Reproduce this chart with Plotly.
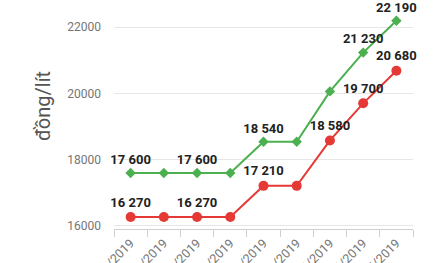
import plotly.graph_objects as go

dates = ["01/01/2019", "16/01/2019", "31/01/2019", "15/02/2019", "02/03/2019",
         "18/03/2019", "02/04/2019", "17/04/2019", "02/05/2019"]
ron95 = [17600, 17600, 17600, 17600, 18540, 18540, 20060, 21230, 22190]
e5 = [16270, 16270, 16270, 16270, 17210, 17210, 18580, 19700, 20680]
ron95_labels = ["17 600", "", "17 600", "", "18 540", "", "", "21 230", "22 190"]
e5_labels = ["16 270", "", "16 270", "", "17 210", "", "18 580", "19 700", "20 680"]
y_ticks = [16000, 18000, 20000, 22000]

label_font = dict(family="Roboto", size=13, color="#222222", weight="bold")

fig = go.Figure()
fig.add_trace(go.Scatter(
    x=dates, y=ron95, mode="lines+markers+text", text=ron95_labels,
    textposition="top center", textfont=label_font,
    line=dict(color="#4caf50", width=2),
    marker=dict(symbol="diamond", size=8, color="#4caf50"),
    cliponaxis=False, showlegend=False))
fig.add_trace(go.Scatter(
    x=dates, y=e5, mode="lines+markers+text", text=e5_labels,
    textposition="top center", textfont=label_font,
    line=dict(color="#e53935", width=2),
    marker=dict(symbol="circle", size=10, color="#e53935"),
    cliponaxis=False, showlegend=False))

fig.update_layout(
    width=441, height=263,
    margin=dict(l=114, r=28, t=10, b=34, autoexpand=False),
    paper_bgcolor="white", plot_bgcolor="white",
    font=dict(family="Roboto", color="#757575", size=12),
    xaxis=dict(type="category", range=[-0.5, 8.5], tickangle=-45,
               tickson="boundaries", ticks="outside", ticklen=7,
               tickcolor="#d0d0d0", showline=True, linecolor="#d0d0d0",
               linewidth=1, showgrid=False, automargin=False,
               ticklabelstandoff=1,
               tickfont=dict(size=12.5, color="#757575")),
    yaxis=dict(range=[15909, 22515], tickvals=y_ticks,
               ticktext=[str(v) for v in y_ticks],
               showgrid=True, gridcolor="#e6e6e6", gridwidth=1,
               zeroline=False, showline=False, ticks="",
               ticklabelstandoff=12, automargin=False,
               tickfont=dict(size=12, color="#757575")),
    annotations=[dict(text="đồng/lít", xref="paper", yref="paper",
                      x=-0.235, y=0.56, xanchor="center", yanchor="middle",
                      textangle=-90, showarrow=False,
                      font=dict(family="Roboto", size=20, color="#555555"))],
)

fig.write_html("out.html")
